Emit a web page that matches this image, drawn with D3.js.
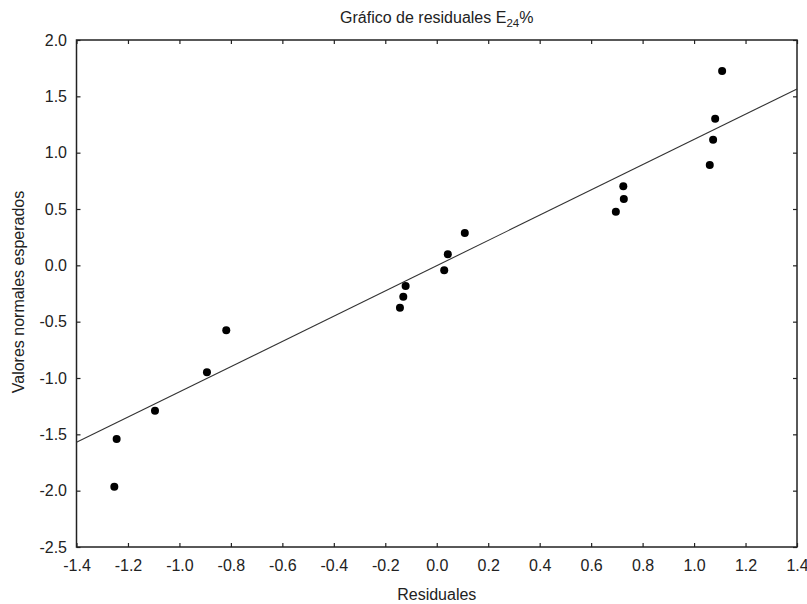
<!DOCTYPE html>
<html>
<head>
<meta charset="utf-8">
<script src="https://cdn.jsdelivr.net/npm/d3@7"></script>
<style>
  html, body { margin: 0; padding: 0; background: #fff; }
  svg { display: block; }
  text { font-family: "Liberation Sans", Arial, sans-serif; }
</style>
</head>
<body>
<svg id="chart" width="807" height="604"></svg>
<script>
// Residuals and their expected normal values
const residuals = [-1.253, -1.244, -1.095, -0.893, -0.818, -0.143, -0.130, -0.121, 0.029,
                   0.043, 0.109, 0.696, 0.727, 0.725, 1.061, 1.074, 1.082, 1.109];
const expectedNormal = [-1.965, -1.541, -1.290, -0.949, -0.577, -0.376, -0.278, -0.183, -0.044,
                        0.098, 0.287, 0.476, 0.589, 0.701, 0.891, 1.115, 1.302, 1.725];

// Reference line endpoints (x, y)
const lineX = [-1.4, 1.4];
const lineY = [-1.571, 1.565];

const xTicks = [-1.4, -1.2, -1.0, -0.8, -0.6, -0.4, -0.2, 0.0, 0.2, 0.4, 0.6, 0.8, 1.0, 1.2, 1.4];
const yTicks = [-2.5, -2.0, -1.5, -1.0, -0.5, 0.0, 0.5, 1.0, 1.5, 2.0];

const titleMain = "Gráfico de residuales E";
const titleSub = "24";
const titleTail = "%";
const xLabel = "Residuales";
const yLabel = "Valores normales esperados";

const plotLeft = 76.5, plotRight = 797, plotTop = 40, plotBottom = 547;
const textColor = "#222";

const svg = d3.select("#chart");

const x = d3.scaleLinear().domain([-1.4, 1.4]).range([plotLeft, plotRight]);
const y = d3.scaleLinear().domain([-2.5, 2.0]).range([plotBottom, plotTop]);
const fmt = d => d.toFixed(1);

function styleAxis(g, showText) {
  g.select(".domain").remove();
  g.selectAll(".tick line").attr("stroke", "#222").attr("stroke-width", 1.2);
  g.selectAll(".tick text")
    .attr("fill", textColor)
    .style("font-size", "16px")
    .style("font-family", "'Liberation Sans', Arial, sans-serif")
    .style("display", showText ? null : "none");
}

// Bottom and left axes with labels, ticks pointing inward
svg.append("g")
  .attr("transform", `translate(0,${plotBottom})`)
  .call(d3.axisBottom(x).tickValues(xTicks).tickFormat(fmt).tickSizeInner(-4).tickSizeOuter(0).tickPadding(13))
  .call(g => styleAxis(g, true));

svg.append("g")
  .attr("transform", `translate(${plotLeft},0)`)
  .call(d3.axisLeft(y).tickValues(yTicks).tickFormat(fmt).tickSizeInner(-4).tickSizeOuter(0).tickPadding(9.5))
  .call(g => styleAxis(g, true));

// Mirrored ticks on top and right edges
svg.append("g")
  .attr("transform", `translate(0,${plotTop})`)
  .call(d3.axisTop(x).tickValues(xTicks).tickSizeInner(-4).tickSizeOuter(0))
  .call(g => styleAxis(g, false));

svg.append("g")
  .attr("transform", `translate(${plotRight},0)`)
  .call(d3.axisRight(y).tickValues(yTicks).tickSizeInner(-4).tickSizeOuter(0))
  .call(g => styleAxis(g, false));

// Plot frame
svg.append("rect")
  .attr("x", plotLeft).attr("y", plotTop)
  .attr("width", plotRight - plotLeft).attr("height", plotBottom - plotTop)
  .attr("fill", "none").attr("stroke", "#222").attr("stroke-width", 1.5);

// Reference line
svg.append("line")
  .attr("x1", x(lineX[0])).attr("y1", y(lineY[0]))
  .attr("x2", x(lineX[1])).attr("y2", y(lineY[1]))
  .attr("stroke", "#333").attr("stroke-width", 1.1);

// Points
svg.append("g").selectAll("circle")
  .data(residuals.map((r, i) => ({ r, e: expectedNormal[i] })))
  .join("circle")
  .attr("cx", d => x(d.r))
  .attr("cy", d => y(d.e))
  .attr("r", 4)
  .attr("fill", "#000");

// Title with subscript
const title = svg.append("text")
  .attr("x", (plotLeft + plotRight) / 2)
  .attr("y", 22.5)
  .attr("text-anchor", "middle")
  .attr("fill", textColor)
  .style("font-size", "16px");
title.append("tspan").text(titleMain);
title.append("tspan").attr("dy", 4).style("font-size", "11.5px").text(titleSub);
title.append("tspan").attr("dy", -4).text(titleTail);

// Axis titles
svg.append("text")
  .attr("x", (plotLeft + plotRight) / 2)
  .attr("y", 600)
  .attr("text-anchor", "middle")
  .attr("fill", textColor)
  .style("font-size", "16px")
  .text(xLabel);

svg.append("text")
  .attr("transform", `translate(24,292) rotate(-90)`)
  .attr("text-anchor", "middle")
  .attr("fill", textColor)
  .style("font-size", "16px")
  .text(yLabel);
</script>
</body>
</html>
